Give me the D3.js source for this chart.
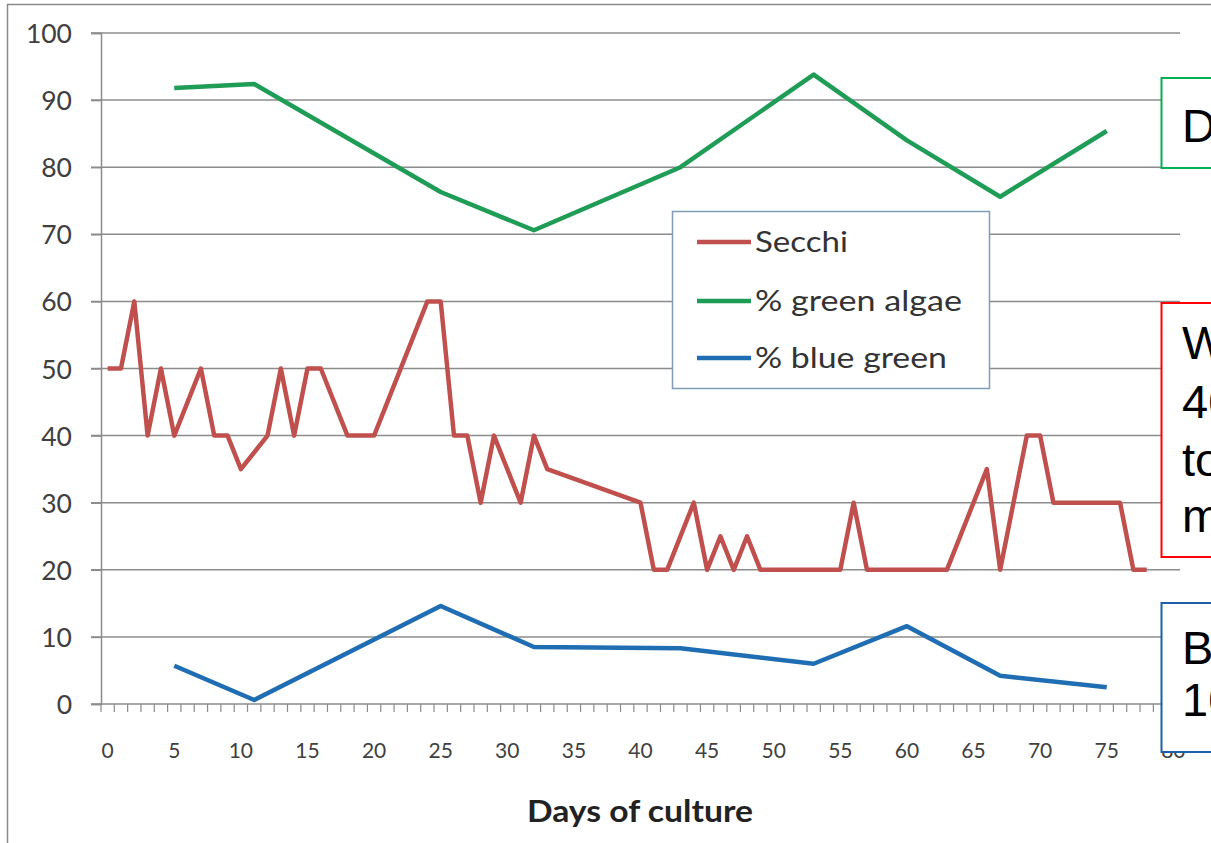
<!DOCTYPE html>
<html>
<head>
<meta charset="utf-8">
<script src="https://cdn.jsdelivr.net/npm/d3@7"></script>
<style>
  html, body { margin: 0; padding: 0; background: #fff; }
  svg { display: block; }
</style>
</head>
<body>
<svg id="chart" width="1211" height="843"></svg>
<script>
// ---- data ----
const secchiDays   = [0, 1, 2, 3, 4, 5, 7, 8, 9, 10, 12, 13, 14, 15, 16, 18, 20, 24, 25, 26, 27, 28, 29, 31, 32, 33, 40, 41, 42, 44, 45, 46, 47, 48, 49, 55, 56, 57, 63, 66, 67, 69, 70, 71, 76, 77, 78];
const secchiValues = [50, 50, 60, 40, 50, 40, 50, 40, 40, 35, 40, 50, 40, 50, 50, 40, 40, 60, 60, 40, 40, 30, 40, 30, 40, 35, 30, 20, 20, 30, 20, 25, 20, 25, 20, 20, 30, 20, 20, 35, 20, 40, 40, 30, 30, 20, 20];
const algaeDays    = [5, 11, 25, 32, 43, 53, 60, 67, 75];
const greenAlgae   = [91.8, 92.4, 76.3, 70.6, 80.0, 93.8, 84.0, 75.6, 85.4];
const blueGreen    = [5.7, 0.6, 14.6, 8.5, 8.3, 6.0, 11.6, 4.2, 2.5];
const xTickLabels  = [0, 5, 10, 15, 20, 25, 30, 35, 40, 45, 50, 55, 60, 65, 70, 75, 80];
const yTickLabels  = [0, 10, 20, 30, 40, 50, 60, 70, 80, 90, 100];
const seriesNames  = ["Secchi", "% green algae", "% blue green"];
const xAxisTitle   = "Days of culture";
const noteGreen    = ["D"];
const noteRed      = ["W", "40", "to", "m"];
const noteBlue     = ["B", "10"];

// ---- layout ----
const svg = d3.select("#chart");
const colors = ["#c0504d", "#1f9d57", "#1f6db2"];
const x = d3.scaleLinear().domain([-0.5, 80.5]).range([101, 1180]);
const y = d3.scaleLinear().domain([0, 100]).range([704, 33]);
const chartFont = "Lato, 'Open Sans', sans-serif";

// outer frame
svg.append("path").attr("d", "M7.5,843 L7.5,4.5 L1211,4.5")
  .attr("fill", "none").attr("stroke", "#8a8a8a").attr("stroke-width", 1.5);

// gridlines
svg.append("g").selectAll("line").data(yTickLabels.filter(d => d > 0)).join("line")
  .attr("x1", 91).attr("x2", x(80.5))
  .attr("y1", d => y(d)).attr("y2", d => y(d))
  .attr("stroke", "#8c8c8c").attr("stroke-width", 1.5);

// y axis
const yAxis = d3.axisLeft(y).tickValues(yTickLabels).tickSize(10).tickPadding(19);
const gy = svg.append("g").attr("transform", "translate(101,0)").call(yAxis);
gy.select(".domain").attr("stroke", "#8c8c8c").attr("stroke-width", 1.5);
gy.selectAll(".tick line").attr("stroke", "#8c8c8c").attr("stroke-width", 1.5);
gy.selectAll(".tick text").attr("font-family", chartFont).attr("font-size", 26.5)
  .attr("fill", "#404040").attr("dy", "0.36em");

// x axis: line, minor ticks at category boundaries
const boundaries = d3.range(-0.5, 81, 1);
const gx = svg.append("g");
gx.append("line").attr("x1", 91).attr("x2", x(80.5)).attr("y1", y(0)).attr("y2", y(0))
  .attr("stroke", "#8c8c8c").attr("stroke-width", 1.5);
gx.selectAll("line.minor").data(boundaries).join("line").attr("class", "minor")
  .attr("x1", d => x(d)).attr("x2", d => x(d))
  .attr("y1", y(0)).attr("y2", y(0) + 8)
  .attr("stroke", "#8c8c8c").attr("stroke-width", 1.2);
gx.selectAll("text").data(xTickLabels).join("text")
  .attr("x", d => x(d)).attr("y", 758)
  .attr("text-anchor", "middle")
  .attr("font-family", chartFont).attr("font-size", 21).attr("fill", "#404040")
  .text(d => d);

svg.append("text").attr("x", 640).attr("y", 822).attr("text-anchor", "middle")
  .attr("font-family", chartFont).attr("font-weight", "bold").attr("font-size", 31)
  .attr("textLength", 226).attr("lengthAdjust", "spacingAndGlyphs")
  .attr("fill", "#222").text(xAxisTitle);

// series
const line = d3.line().x(d => x(d[0])).y(d => y(d[1]));
const series = [
  d3.zip(secchiDays, secchiValues),
  d3.zip(algaeDays, greenAlgae),
  d3.zip(algaeDays, blueGreen)
];
svg.append("g").selectAll("path").data(series).join("path")
  .attr("d", line).attr("fill", "none")
  .attr("stroke", (d, i) => colors[i]).attr("stroke-width", 4.5)
  .attr("stroke-linejoin", "round");

// legend
const lg = svg.append("g");
lg.append("rect").attr("x", 672.5).attr("y", 211.5).attr("width", 317).attr("height", 177)
  .attr("fill", "#fff").attr("stroke", "#7f9db9").attr("stroke-width", 1.5);
const legY = [242, 301, 358];
const legW = [93, 207, 192];
seriesNames.forEach((n, i) => {
  lg.append("line").attr("x1", 697).attr("x2", 751).attr("y1", legY[i]).attr("y2", legY[i])
    .attr("stroke", colors[i]).attr("stroke-width", 4.5);
  lg.append("text").attr("x", 755).attr("y", legY[i]).attr("dy", "0.36em")
    .attr("font-family", chartFont).attr("font-size", 29)
    .attr("textLength", legW[i]).attr("lengthAdjust", "spacingAndGlyphs")
    .attr("fill", "#333").text(n);
});

// annotation boxes (cut off at the right edge, as in the reference)
const noteFont = "'Liberation Sans', Arial, sans-serif";
function note(y0, h, stroke, lines, baselines) {
  const g = svg.append("g");
  g.append("rect").attr("x", 1161.5).attr("y", y0).attr("width", 80).attr("height", h)
    .attr("fill", "#fff").attr("stroke", stroke).attr("stroke-width", 2);
  g.selectAll("text").data(lines).join("text")
    .attr("x", 1182).attr("y", (d, i) => baselines[i])
    .attr("font-family", noteFont).attr("font-size", 47).attr("fill", "#000")
    .text(d => d);
}
note(78, 90, "#00b050", noteGreen, [142]);
note(303, 254, "#ff0000", noteRed, [359, 418, 476, 532]);
note(603, 149, "#1d5fa8", noteBlue, [664, 716]);
</script>
</body>
</html>
